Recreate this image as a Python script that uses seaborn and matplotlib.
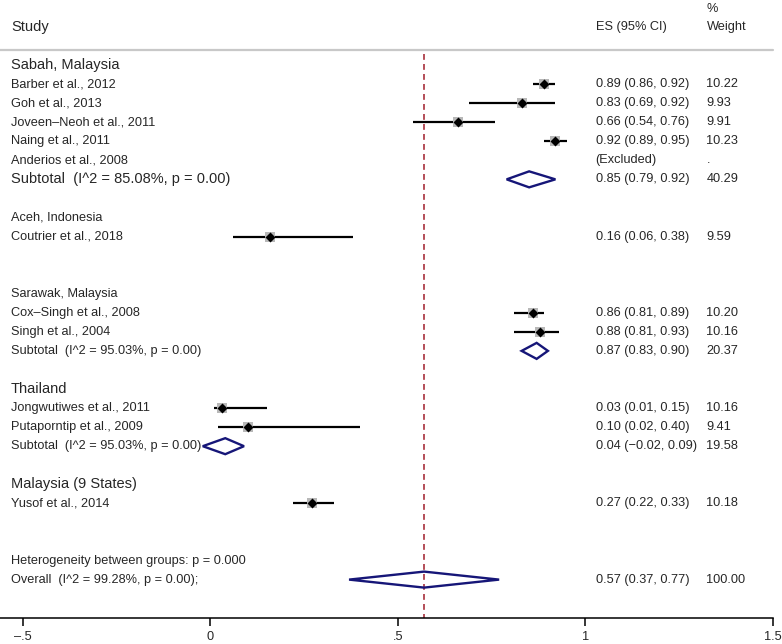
import numpy as np
import pandas as pd
import matplotlib.pyplot as plt
import seaborn as sns
from matplotlib.patches import Polygon

# --- datos ---
groups = ["Sabah, Malaysia", "Aceh, Indonesia", "Sarawak, Malaysia", "Thailand", "Malaysia (9 States)"]
group_big = [True, False, False, True, True]
gap_after = [1, 2, 1, 1, 2]

studies = ["Barber et al., 2012", "Goh et al., 2013", "Joveen\u2013Neoh et al., 2011", "Naing et al., 2011",
           "Anderios et al., 2008", "Coutrier et al., 2018", "Cox\u2013Singh et al., 2008", "Singh et al., 2004",
           "Jongwutiwes et al., 2011", "Putaporntip et al., 2009", "Yusof et al., 2014"]
study_group = [0, 0, 0, 0, 0, 1, 2, 2, 3, 3, 4]
es = [0.89, 0.83, 0.66, 0.92, np.nan, 0.16, 0.86, 0.88, 0.03, 0.10, 0.27]
lo = [0.86, 0.69, 0.54, 0.89, np.nan, 0.06, 0.81, 0.81, 0.01, 0.02, 0.22]
hi = [0.92, 0.92, 0.76, 0.95, np.nan, 0.38, 0.89, 0.93, 0.15, 0.40, 0.33]
weight = [10.22, 9.93, 9.91, 10.23, np.nan, 9.59, 10.20, 10.16, 10.16, 9.41, 10.18]

sub_group = [0, 2, 3]
sub_big = [True, False, False]
sub_i2 = ["85.08", "95.03", "95.03"]
sub_es = [0.85, 0.87, 0.04]
sub_lo = [0.79, 0.83, -0.02]
sub_hi = [0.92, 0.90, 0.09]
sub_weight = [40.29, 20.37, 19.58]

overall_es, overall_lo, overall_hi = 0.57, 0.37, 0.77
overall_i2 = "99.28"
het_p = "0.000"

xticks = [-0.5, 0, 0.5, 1, 1.5]
xtick_labels = ["\u2013.5", "0", ".5", "1", "1.5"]

# --- estilo ---
sns.set_theme(style="white")
plt.rcParams["font.family"] = ["Liberation Sans", "DejaVu Sans"]
SMALL, BIG = 9.2, 10.5
NAVY = "#161678"
GREY = "#b8b8b8"
RED = "#a8303c"

# --- filas ---
study_row = [None] * len(studies)
group_row, sub_row = [], {}
r = 0
for g in range(len(groups)):
    group_row.append(r)
    r += 1
    for i, sg in enumerate(study_group):
        if sg == g:
            study_row[i] = r
            r += 1
    if g in sub_group:
        sub_row[g] = r
        r += 1
    r += gap_after[g]
het_row = r
overall_row = r + 1

df = pd.DataFrame({"study": studies, "es": es, "lo": lo, "hi": hi,
                   "weight": weight, "row": study_row})

fig = plt.figure(figsize=(7.82, 6.44), dpi=100)
ax = fig.add_axes([0, 0.0408, 773 / 782, 0.9592])

x_study, x_es, x_w = -0.531, 1.027, 1.3226

# encabezados
ax.text(x_study, -2, "Study", fontsize=BIG, va="center")
ax.text(x_es, -2, "ES (95% CI)", fontsize=SMALL, va="center")
ax.text(x_w, -2.95, "%", fontsize=SMALL, va="center")
ax.text(x_w, -2, "Weight", fontsize=SMALL, va="center")
ax.plot([-0.5604, 1.5], [-0.79, -0.79], color="#c8c8c8", lw=1.6, clip_on=False)

# línea del efecto global
ax.plot([overall_es, overall_es], [-0.6, 29.0], color=RED, lw=1.2, ls=(0, (3.5, 2.5)), zorder=1)

for g, name in enumerate(groups):
    ax.text(x_study, group_row[g], name, fontsize=BIG if group_big[g] else SMALL, va="center")

valid = df.dropna(subset=["es"])
ax.hlines(valid["row"], valid["lo"], valid["hi"], color="black", lw=1.6, zorder=2)
sns.scatterplot(data=valid, x="es", y="row", marker="s", color=GREY, s=48, linewidth=0, ax=ax, zorder=2.5)
sns.scatterplot(data=valid, x="es", y="row", marker="D", color="black", s=26, linewidth=0, ax=ax, zorder=3)

for i, row in df.iterrows():
    ax.text(x_study, row["row"], row["study"], fontsize=SMALL, va="center")
    if np.isnan(row["es"]):
        ax.text(x_es, row["row"], "(Excluded)", fontsize=SMALL, va="center")
        ax.text(x_w, row["row"], ".", fontsize=SMALL, va="center")
    else:
        ax.text(x_es, row["row"], f"{row['es']:.2f} ({row['lo']:.2f}, {row['hi']:.2f})", fontsize=SMALL, va="center")
        ax.text(x_w, row["row"], f"{row['weight']:.2f}", fontsize=SMALL, va="center")


def diamond(y, e, l, h):
    hh = 0.42
    ax.add_patch(Polygon([[l, y], [e, y - hh], [h, y], [e, y + hh]], closed=True,
                         fill=False, edgecolor=NAVY, lw=1.7, zorder=3))


def fmt(v):
    return f"{v:.2f}".replace("-", "\u2212")


for k, g in enumerate(sub_group):
    y = sub_row[g]
    fs = BIG if sub_big[k] else SMALL
    ax.text(x_study, y, f"Subtotal  (I^2 = {sub_i2[k]}%, p = 0.00)", fontsize=fs, va="center")
    diamond(y, sub_es[k], sub_lo[k], sub_hi[k])
    ax.text(x_es, y, f"{fmt(sub_es[k])} ({fmt(sub_lo[k])}, {fmt(sub_hi[k])})", fontsize=SMALL, va="center")
    ax.text(x_w, y, f"{sub_weight[k]:.2f}", fontsize=SMALL, va="center")

ax.text(x_study, het_row, f"Heterogeneity between groups: p = {het_p}", fontsize=SMALL, va="center")
ax.text(x_study, overall_row, f"Overall  (I^2 = {overall_i2}%, p = 0.00);", fontsize=SMALL, va="center")
diamond(overall_row, overall_es, overall_lo, overall_hi)
ax.text(x_es, overall_row, f"{overall_es:.2f} ({overall_lo:.2f}, {overall_hi:.2f})", fontsize=SMALL, va="center")
ax.text(x_w, overall_row, "100.00", fontsize=SMALL, va="center")

ax.set_xlim(-0.5604, 1.5)
ax.set_ylim(29.0, -3.41)
ax.set_xlabel("")
ax.set_ylabel("")
ax.set_yticks([])
ax.set_xticks(xticks)
ax.set_xticklabels(xtick_labels, fontsize=SMALL)
ax.tick_params(axis="x", direction="out", length=6, width=1.1, pad=3.5, bottom=True, color="black")
for side in ["top", "left", "right"]:
    ax.spines[side].set_visible(False)
ax.spines["bottom"].set_color("black")
ax.spines["bottom"].set_linewidth(1.1)

plt.savefig("out.png", dpi=100)
